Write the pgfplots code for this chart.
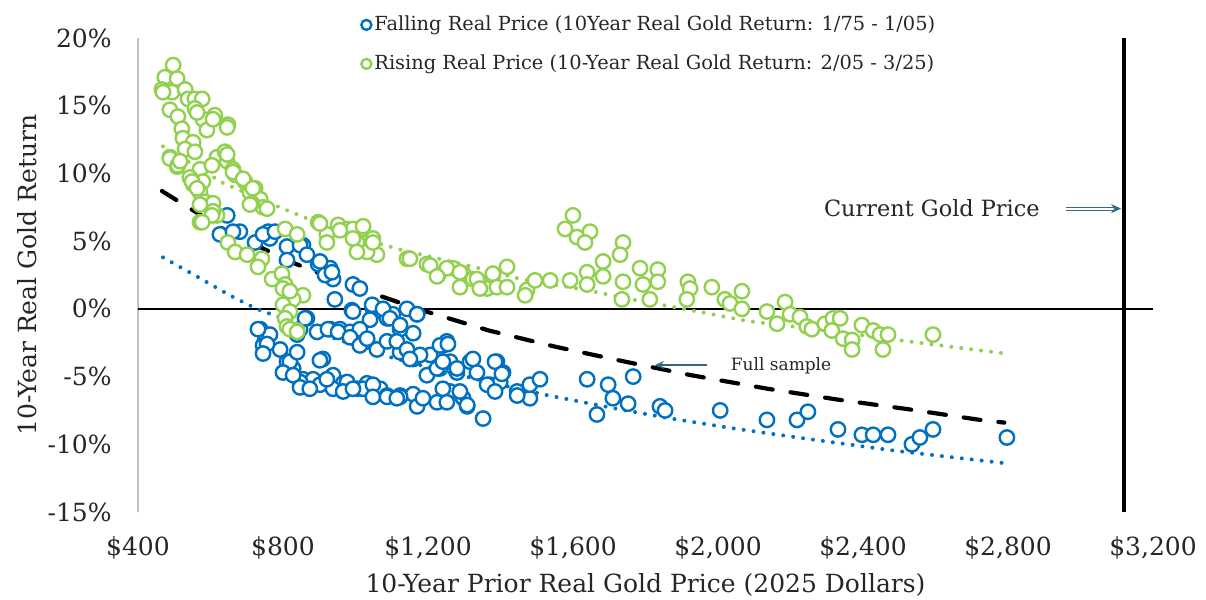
\documentclass[border=0pt]{standalone}
\usepackage{pgfplots}
\pgfplotsset{compat=1.18}
\usetikzlibrary{arrows.meta}
\usepackage{fontspec}
\setmainfont{DejaVu Serif}
\definecolor{fblue}{HTML}{0070C0}
\definecolor{rgreen}{HTML}{92D050}
\definecolor{arrowc}{HTML}{2E6A8C}
\definecolor{axgray}{HTML}{BFBFBF}
\begin{document}
\begin{tikzpicture}
\begin{axis}[
  scale only axis, width=507.5pt, height=237pt,
  xmin=400, xmax=3200, ymin=-15, ymax=20,
  axis line style={draw=none},
  major tick length=0pt,
  clip=false,
  xtick={400,800,1200,1600,2000,2400,2800,3200},
  xticklabels={\$400,\$800,{\$1,200},{\$1,600},{\$2,000},{\$2,400},{\$2,800},{\$3,200}},
  ytick={-15,-10,-5,0,5,10,15,20},
  yticklabels={-15\%,-10\%,-5\%,0\%,5\%,10\%,15\%,20\%},
  ticklabel style={font=\fontsize{12.5}{15}\selectfont, text=black!85},
  xticklabel style={anchor=base, inner sep=0pt, yshift=-21.5pt},
  yticklabel style={anchor=east, inner sep=0pt, xshift=-13pt},
  legend style={at={(rel axis cs:0,1)}, anchor=north west, xshift=111.5pt, yshift=13pt,
    draw=none, fill=none, inner sep=0pt, row sep=7pt,
    font=\fontsize{9.7}{12}\selectfont, text=black!85,
    nodes={inner sep=1.5pt, text height=7.5pt, text depth=2pt}},
  legend cell align=left,
  legend image code/.code={\draw[#1, mark size=2.5pt] plot coordinates {(0.15cm,0cm)};},
]
\addplot[axgray, line width=1pt, forget plot] coordinates {(400,-15) (400,20)};
\addplot[black, line width=1pt, forget plot] coordinates {(400,0) (3200,0)};
\addplot[black, line width=1.6pt, forget plot] coordinates {(3120,-15) (3120,20)};

\addplot[only marks, mark=*, mark size=3.6pt, mark options={draw=fblue, fill=white, line width=1.2pt}] coordinates {
(646,6.9) (626,5.5) (681,5.7) (759,5.7) (764,5.2) (723,4.9) (855,4.7) (811,4.6) (897,3.3) (930,3.0) (921,2.5) (938,2.2) (993,1.8) (1012,1.5) (662,5.7) (745,5.5) (778,5.7) (847,4.7) (866,4.0) (811,3.6) (797,2.2) (902,3.5) (916,2.5) (935,2.7) (943,0.7) (866,-0.7) (990,-0.1) (1048,0.0) (1073,-0.2) (1103,-0.4) (1142,0.0) (1170,-0.4) (737,-1.5) (750,-2.4) (792,-3.0) (811,-3.9) (828,-4.4) (855,-5.2) (894,-5.4) (910,-3.7) (938,-4.9) (966,-5.5) (1004,-5.9) (1032,-5.5) (1068,-5.9) (1087,-6.4) (1123,-6.4) (1159,-6.3) (957,-1.5) (930,-1.5) (985,-1.7) (1032,-2.4) (1059,-3.0) (1087,-2.4) (1123,-3.2) (1159,-3.7) (1197,-4.9) (1233,-4.4) (1241,-2.7) (1206,-3.4) (1159,-1.8) (1123,-1.5) (1087,-0.7) (1040,-0.8) (1012,-1.5) (894,-1.7) (847,-1.5) (745,-2.7) (819,-3.9) (839,-3.2) (861,-0.7) (924,-1.5) (952,-1.7) (993,-0.2) (985,-2.1) (1012,-2.7) (1032,-2.2) (1046,0.3) (1076,0.0) (1095,-0.7) (1123,-1.2) (1170,-0.4) (1114,-2.4) (1142,-3.0) (1178,-3.4) (1225,-4.4) (1150,-3.7) (1252,-2.4) (1233,-2.7) (1261,-3.9) (1280,-4.7) (1316,-3.9) (1335,-4.7) (1390,-3.9) (1407,-4.7) (1371,-5.6) (1399,-5.4) (1446,-6.1) (883,-5.2) (902,-5.6) (938,-5.9) (977,-5.4) (1021,-5.9) (1048,-5.6) (1123,-6.5) (1170,-7.2) (1186,-6.6) (1225,-6.9) (1261,-6.1) (1297,-6.6) (1308,-7.2) (1352,-8.1) (764,-1.9) (839,-1.9) (731,-1.5) (847,-5.4) (1255,-2.6) (1241,-3.9) (1280,-4.4) (1324,-3.7) (1385,-3.9) (1404,-4.8) (1363,-5.6) (1385,-6.1) (1481,-6.6) (1481,-5.6) (1509,-5.2) (1241,-5.9) (1252,-6.9) (1288,-6.1) (1308,-7.1) (1446,-6.4) (1639,-5.2) (1697,-5.6) (1710,-6.6) (1752,-7.0) (1766,-5.0) (1666,-7.8) (1840,-7.2) (1854,-7.5) (2006,-7.5) (2135,-8.2) (2218,-8.2) (2248,-7.6) (2331,-8.9) (2397,-9.3) (2428,-9.3) (2469,-9.3) (2535,-10.0) (2557,-9.5) (2593,-8.9) (2797,-9.5) (756,-2.6) (745,-3.3) (800,-4.7) (828,-4.9) (847,-5.8) (874,-5.9) (902,-3.8) (921,-5.2) (966,-6.1) (993,-5.9) (1048,-6.5) (1087,-6.5) (1114,-6.6)
};
\addplot[only marks, mark=*, mark size=3.6pt, mark options={draw=rgreen, fill=white, line width=1.2pt}] coordinates {
(497,18.0) (474,17.1) (508,17.0) (466,16.2) (494,16.0) (530,16.2) (538,15.5) (557,15.5) (577,15.5) (488,14.7) (557,14.8) (510,14.2) (579,14.0) (612,14.3) (648,13.6) (590,13.2) (521,13.3) (524,12.6) (552,12.3) (530,11.8) (557,11.6) (488,11.2) (508,10.5) (571,10.3) (618,11.2) (640,11.6) (646,10.9) (604,10.6) (662,10.3) (543,9.7) (552,9.2) (579,9.4) (668,9.9) (695,9.4) (709,8.6) (723,8.9) (737,8.1) (745,7.5) (714,7.8) (571,8.6) (585,7.9) (607,7.8) (618,6.9) (571,6.4) (921,5.5) (897,6.4) (952,6.2) (979,5.9) (1018,5.9) (999,5.1) (902,6.3) (993,5.9) (1021,6.1) (1048,5.2) (1004,4.9) (1059,4.0) (1032,4.2) (921,4.9) (1142,3.7) (1197,3.3) (1228,2.5) (1269,3.0) (1297,2.6) (1343,2.0) (1324,2.2) (1379,2.5) (1363,1.5) (855,1.0) (1600,6.9) (1578,5.9) (1611,5.3) (1647,5.7) (1633,4.9) (1738,4.9) (1730,4.0) (1683,3.5) (1785,3.0) (1834,2.9) (1639,2.7) (1592,2.1) (1639,1.8) (1683,2.4) (1738,2.0) (1793,1.8) (1834,2.0) (1917,2.0) (1923,1.5) (1983,1.6) (1914,0.7) (1812,0.7) (1735,0.7) (2019,0.7) (2033,0.4) (1252,3.0) (1288,2.7) (1288,1.6) (1335,2.2) (1343,1.5) (1379,2.6) (1418,3.1) (1390,1.6) (1418,1.6) (1473,1.4) (1468,1.0) (1495,2.1) (1537,2.1) (2066,1.3) (2066,0.0) (2135,-0.2) (2185,0.5) (2163,-1.1) (2199,-0.4) (2226,-0.6) (2245,-1.3) (2259,-1.5) (2295,-1.1) (2317,-0.7) (2337,-0.7) (2314,-1.6) (2345,-2.2) (2370,-2.3) (2370,-3.0) (2397,-1.2) (2428,-1.6) (2447,-1.9) (2469,-1.9) (2455,-3.0) (2593,-1.9) (709,7.7) (756,7.4) (607,7.2) (806,5.9) (839,5.5) (648,4.9) (668,4.2) (701,4.0) (742,3.7) (731,3.1) (770,2.2) (797,2.6) (806,1.8) (814,1.3) (828,0.7) (800,0.3) (819,-0.2) (806,-0.7) (811,-1.3) (839,-1.6) (957,5.8) (993,5.2) (1004,4.2) (1048,4.9) (1150,3.7) (1206,3.2) (1225,2.4) (488,11.1) (510,10.6) (549,9.4) (563,8.9) (571,7.7) (604,6.9) (577,6.4) (646,11.4) (662,10.1) (690,9.6) (717,8.9) (800,1.5) (819,1.3) (819,-1.5) (839,-1.7) (469,16.0) (563,14.5) (607,14.0) (646,13.4) (516,10.9)
};
\legend{Falling Real Price (10Year Real Gold Return: 1/75 - 1/05), Rising Real Price (10-Year Real Gold Return: 2/05 - 3/25)}

% trendlines
\addplot[fblue, line width=2pt, line cap=round, dash pattern=on 0pt off 5pt, forget plot] coordinates {
(469,3.8) (562,2.4) (653,1.0) (727,0.0) (809,-0.8) (900,-1.8) (1000,-2.7) (1100,-3.6) (1200,-4.3) (1350,-5.3) (1533,-6.4) (1725,-7.4) (1871,-8.1) (2036,-8.8) (2220,-9.5) (2495,-10.5) (2792,-11.4)};
\addplot[rgreen, line width=2pt, line cap=round, dash pattern=on 0pt off 5pt, forget plot] coordinates {
(469,12.0) (634,9.3) (782,7.6) (873,6.6) (1002,5.3) (1120,4.4) (1340,3.0) (1456,2.2) (1634,1.4) (1780,0.6) (1945,-0.2) (2082,-0.9) (2300,-1.6) (2495,-2.3) (2792,-3.3)};
\addplot[black, line width=2.1pt, line cap=round, dash pattern=on 8.5pt off 9pt, forget plot] coordinates {
(466,8.7) (653,5.6) (837,3.3) (1019,1.4) (1183,-0.1) (1368,-1.6) (1552,-2.8) (1744,-3.9) (1926,-4.9) (2137,-5.9) (2330,-6.7) (2522,-7.4) (2723,-8.2) (2790,-8.4)};

% annotations
\node[font=\fontsize{11.2}{13}\selectfont, text=black!85] at (axis cs:2590,7.4) {Current Gold Price};
\draw[arrowc, line width=0.5pt, double distance=1pt, -{Stealth[length=5pt, width=4.5pt]}] (axis cs:2960,7.4) -- (axis cs:3112,7.4);
\node[font=\fontsize{8.5}{10}\selectfont, text=black!85] at (axis cs:2174,-4.2) {Full sample};
\draw[arrowc, line width=0.9pt, -{Stealth[length=4.5pt, width=4pt]}] (axis cs:1970,-4.15) -- (axis cs:1826,-4.15);

% axis titles
\node[font=\fontsize{12.5}{15}\selectfont, text=black!85] at (rel axis cs:0.5,0) [yshift=-36.5pt] {10-Year Prior Real Gold Price (2025 Dollars)};
\node[font=\fontsize{12.5}{15}\selectfont, text=black!85, rotate=90] at (rel axis cs:0,0.5) [yshift=55.5pt] {10-Year Real Gold Return};
\end{axis}
\pgfresetboundingbox
\useasboundingbox (-69pt,-44pt) rectangle (534pt,256pt);
\end{tikzpicture}
\end{document}
